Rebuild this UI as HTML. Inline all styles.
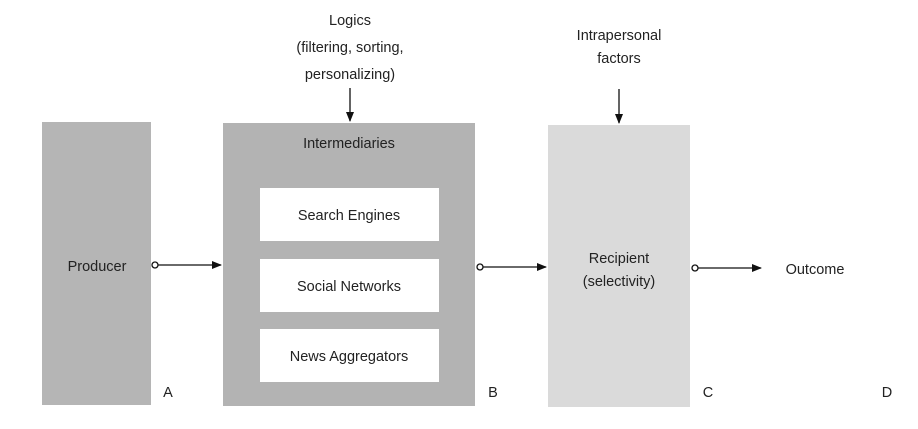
<!DOCTYPE html>
<html><head><style>
body{margin:0;background:#fff;}
svg text{font-family:"Liberation Sans",sans-serif;font-size:14.5px;fill:#222;}
</style></head><body>
<svg width="918" height="424" viewBox="0 0 918 424" xmlns="http://www.w3.org/2000/svg">
<defs><marker id="ah" markerWidth="10" markerHeight="8" refX="9" refY="4" orient="auto" markerUnits="userSpaceOnUse"><path d="M0,0 L10,4 L0,8 z" fill="#111"/></marker></defs>
<rect x="42" y="122" width="109" height="283" fill="#b5b5b5"/>
<rect x="223" y="123" width="252" height="283" fill="#b3b3b3"/>
<rect x="260" y="188" width="179" height="53" fill="#fff"/>
<rect x="260" y="259" width="179" height="53" fill="#fff"/>
<rect x="260" y="329" width="179" height="53" fill="#fff"/>
<rect x="548" y="125" width="142" height="282" fill="#dadada"/>
<text x="349" y="148" text-anchor="middle">Intermediaries</text>
<text x="349" y="220" text-anchor="middle">Search Engines</text>
<text x="349" y="291" text-anchor="middle">Social Networks</text>
<text x="349" y="361" text-anchor="middle">News Aggregators</text>
<text x="97" y="271" text-anchor="middle">Producer</text>
<text x="619" y="263" text-anchor="middle">Recipient</text>
<text x="619" y="286" text-anchor="middle">(selectivity)</text>
<text x="815" y="274" text-anchor="middle">Outcome</text>
<text x="350" y="25" text-anchor="middle">Logics</text>
<text x="350" y="52" text-anchor="middle">(filtering, sorting,</text>
<text x="350" y="79" text-anchor="middle">personalizing)</text>
<text x="619" y="40" text-anchor="middle">Intrapersonal</text>
<text x="619" y="63" text-anchor="middle">factors</text>
<text x="168" y="397" text-anchor="middle">A</text>
<text x="493" y="397" text-anchor="middle">B</text>
<text x="708" y="397" text-anchor="middle">C</text>
<text x="887" y="397" text-anchor="middle">D</text>
<g stroke="#111" stroke-width="1.3" fill="#fff">
<line x1="158" y1="265" x2="221" y2="265" marker-end="url(#ah)"/>
<circle cx="155" cy="265" r="3"/>
<line x1="483" y1="267" x2="546" y2="267" marker-end="url(#ah)"/>
<circle cx="480" cy="267" r="3"/>
<line x1="698" y1="268" x2="761" y2="268" marker-end="url(#ah)"/>
<circle cx="695" cy="268" r="3"/>
<line x1="350" y1="88" x2="350" y2="121" marker-end="url(#ah)"/>
<line x1="619" y1="89" x2="619" y2="123" marker-end="url(#ah)"/>
</g>
</svg>
</body></html>
